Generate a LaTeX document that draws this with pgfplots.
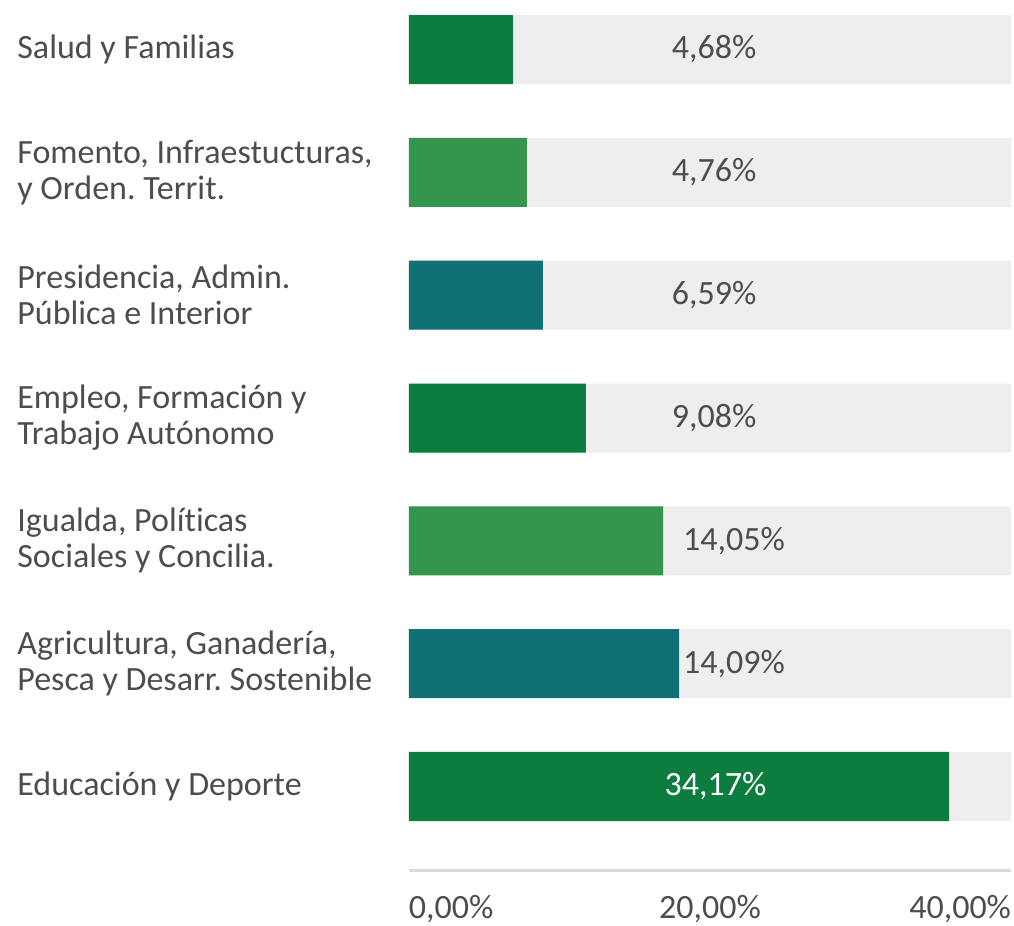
\documentclass[border=0pt]{standalone}
\usepackage{pgfplots}
\usepackage{pgfplotstable}
\pgfplotsset{compat=1.18}
\usepackage{fontspec}
\setmainfont{Carlito}[Ligatures=NoCommon]
\frenchspacing

\definecolor{dgreen}{HTML}{0D7D3F}
\definecolor{lgreen}{HTML}{33964C}
\definecolor{tealb}{HTML}{0F7075}
\definecolor{bgbar}{HTML}{EEEEEE}
\definecolor{txt}{HTML}{4D4D4D}
\definecolor{axln}{HTML}{D9D9D9}

% cat: 0 = Educacion (bottom) ... 6 = Salud (top)
% len = bar length read against the axis, val = printed value, pos = label position
\pgfplotstableread{
cat len   val   pos
6   6.91  4.68  20.27
5   7.84  4.76  20.27
4   8.90  6.59  20.27
3   11.76 9.08  20.27
2   16.88 14.05 21.59
1   17.94 14.09 21.59
0   35.88 34.17 20.37
}\datatab

\begin{document}
\begin{tikzpicture}[font=\fontsize{17}{18}\selectfont]
\begin{axis}[
  scale only axis, width=301pt, height=427.5pt,
  xmin=0, xmax=40, ymin=-0.680, ymax=6.281,
  axis x line*=bottom, axis y line*=left,
  x axis line style={draw=axln, line width=1.5pt},
  y axis line style={draw=none},
  major tick length=0pt,
  xtick={0,20,40},
  xticklabels={{\makebox[0pt][l]{0,00\%}}, {20,00\%}, {\makebox[0pt][r]{40,00\%}}},
  xticklabel style={text=txt, inner sep=0pt, yshift=-12.5pt},
  ytick={0,...,6},
  yticklabels={
    Educación y Deporte,
    {Agricultura, Ganadería,\\Pesca y Desarr. Sostenible},
    {Igualda, Políticas\\Sociales y Concilia.},
    {Empleo, Formación y\\Trabajo Autónomo},
    {Presidencia, Admin.\\Pública e Interior},
    {Fomento, Infraestucturas,\\y Orden. Territ.},
    Salud y Familias},
  yticklabel style={anchor=west, align=left, inner sep=0pt, xshift=-196pt, text=txt},
  clip=false,
]
\coordinate (bl) at (rel axis cs:-0.6794,-0.0643);
\coordinate (tr) at (rel axis cs:1.00498,1.01754);

% full-width background bars
\addplot[xbar, bar width=34.5pt, bar shift=0pt, fill=bgbar, draw=none]
  coordinates {(40,0) (40,1) (40,2) (40,3) (40,4) (40,5) (40,6)};

\addplot[xbar, bar width=34.5pt, bar shift=0pt, fill=dgreen, draw=none]
  coordinates {(6.91,6) (11.76,3) (35.88,0)};
\addplot[xbar, bar width=34.5pt, bar shift=0pt, fill=lgreen, draw=none]
  coordinates {(7.84,5) (16.88,2)};
\addplot[xbar, bar width=34.5pt, bar shift=0pt, fill=tealb, draw=none]
  coordinates {(8.90,4) (17.94,1)};

% value labels
\addplot[only marks, mark=*, mark size=0pt, draw=none, fill=none,
  point meta=explicit,
  nodes near coords={\pgfmathprintnumber[fixed, fixed zerofill, precision=2, use comma, assume math mode=true]{\pgfplotspointmeta}\%},
  nodes near coords style={anchor=center, text=txt, inner sep=0pt},
  restrict y to domain=0.5:7]
  table[x=pos, y=cat, meta=val] {\datatab};
\addplot[only marks, mark=*, mark size=0pt, draw=none, fill=none,
  point meta=explicit,
  nodes near coords={\pgfmathprintnumber[fixed, fixed zerofill, precision=2, use comma, assume math mode=true]{\pgfplotspointmeta}\%},
  nodes near coords style={anchor=center, text=white, inner sep=0pt},
  restrict y to domain=-0.5:0.5]
  table[x=pos, y=cat, meta=val] {\datatab};
\end{axis}
\pgfresetboundingbox
\path (bl) rectangle (tr);
\end{tikzpicture}
\end{document}
